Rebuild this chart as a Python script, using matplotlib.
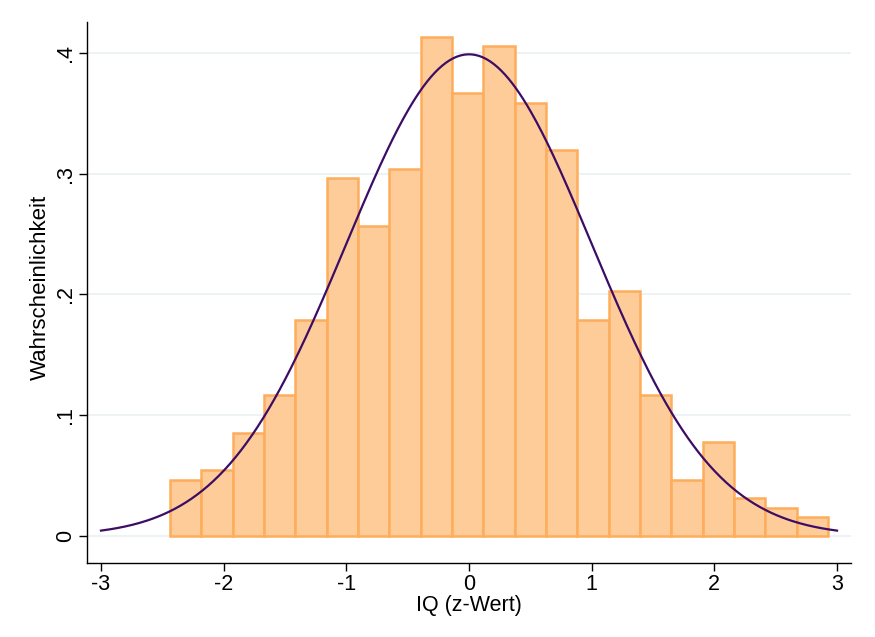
import numpy as np
import matplotlib
matplotlib.use("Agg")
import matplotlib.pyplot as plt

plt.rcParams['font.family'] = ['Liberation Sans', 'DejaVu Sans']

# Histogram data (density per bin)
bin_start = -2.4375
bin_width = 0.2555
densities = [0.0464, 0.0547, 0.0853, 0.1168, 0.179, 0.2965, 0.2567, 0.304,
             0.413, 0.367, 0.406, 0.359, 0.320, 0.179, 0.203, 0.1168,
             0.0464, 0.0778, 0.0315, 0.0232, 0.0157]
x_ticks = [-3, -2, -1, 0, 1, 2, 3]
y_ticks = [0, 0.1, 0.2, 0.3, 0.4]
y_ticklabels = ["0", ".1", ".2", ".3", ".4"]

fig = plt.figure(figsize=(8.75, 6.37), dpi=100)
ax = fig.add_axes([87/875, 1-563/637, (851-87)/875, (563-22)/637])

lefts = bin_start + bin_width * np.arange(len(densities))
ax.bar(lefts, densities, width=bin_width, align='edge',
       color='#fdcc98', edgecolor='#fdad5c', linewidth=1.8, zorder=2)

xs = np.linspace(-3, 3, 400)
ax.plot(xs, np.exp(-xs**2/2)/np.sqrt(2*np.pi), color='#3d0d66', linewidth=1.6, zorder=3)

ax.set_xlim(-3.114, 3.114)
ax.set_ylim(-0.0224, 0.4257)
ax.set_xticks(x_ticks)
ax.set_xticklabels([str(t) for t in x_ticks])
ax.set_yticks(y_ticks)
ax.set_yticklabels(y_ticklabels, rotation=90, va='center')
ax.grid(axis='y', color='#eaf0f3', linewidth=1.2, zorder=0)
ax.set_axisbelow(True)
for s in ['top', 'right']:
    ax.spines[s].set_visible(False)
for s in ['left', 'bottom']:
    ax.spines[s].set_linewidth(1.0)
    ax.spines[s].set_color('#000000')
ax.tick_params(axis='both', length=6, width=1.0, labelsize=15.5, pad=2)
ax.set_xlabel('IQ (z-Wert)', fontsize=15.5, labelpad=0)
ax.set_ylabel('Wahrscheinlichkeit', fontsize=16, labelpad=1)
ax.yaxis.set_label_coords(-0.047, 0.51)

fig.savefig('out.png', dpi=100)
